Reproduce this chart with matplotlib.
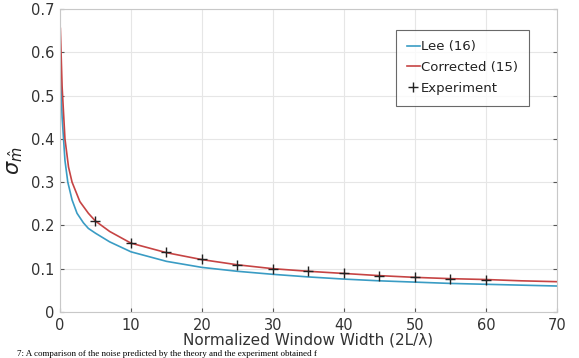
import matplotlib
matplotlib.use("Agg")
import matplotlib.pyplot as plt

# Data
lee_x = [0.05, 0.3, 0.7, 1.1, 1.7, 2.4, 3.3, 4.0, 5, 7, 10, 15, 20, 25, 30, 35, 40, 45, 50, 55, 60, 65, 70]
lee_y = [0.56, 0.45, 0.35, 0.30, 0.259, 0.228, 0.206, 0.193, 0.182, 0.162, 0.139, 0.117, 0.103, 0.094, 0.087, 0.081, 0.076, 0.072, 0.069, 0.066, 0.064, 0.062, 0.060]
cor_x = [0.05, 0.3, 0.7, 1.2, 1.7, 2.8, 4.0, 5, 7, 10, 15, 20, 25, 30, 35, 40, 45, 50, 55, 60, 65, 70]
cor_y = [0.655, 0.52, 0.40, 0.335, 0.30, 0.255, 0.228, 0.21, 0.186, 0.159, 0.137, 0.121, 0.109, 0.100, 0.094, 0.089, 0.084, 0.080, 0.077, 0.075, 0.072, 0.070]
exp_x = [5, 10, 15, 20, 25, 30, 35, 40, 45, 50, 55, 60]
exp_y = [0.210, 0.159, 0.138, 0.122, 0.109, 0.100, 0.095, 0.090, 0.084, 0.081, 0.077, 0.075]
xticks = [0, 10, 20, 30, 40, 50, 60, 70]
yticks = [0, 0.1, 0.2, 0.3, 0.4, 0.5, 0.6, 0.7]
ytick_labels = ["0", "0.1", "0.2", "0.3", "0.4", "0.5", "0.6", "0.7"]

fig = plt.figure(figsize=(5.79, 3.58), dpi=100)
ax = fig.add_axes([0.1036, 0.1285, 0.8584, 0.8465])

ax.plot(lee_x, lee_y, color="#3a9cc4", lw=1.2, label="Lee (16)")
ax.plot(cor_x, cor_y, color="#c64444", lw=1.2, label="Corrected (15)")
ax.plot(exp_x, exp_y, linestyle="none", marker="+", color="#222222", ms=7, mew=1.0, label="Experiment")

ax.set_xlim(0, 70)
ax.set_ylim(0, 0.7)
ax.set_xticks(xticks)
ax.set_yticks(yticks)
ax.set_yticklabels(ytick_labels)
ax.grid(True, color="#e6e6e6", lw=0.8)
ax.set_axisbelow(True)
for s in ax.spines.values():
    s.set_color("#c8c8c8")
    s.set_linewidth(0.8)
ax.tick_params(direction="in", length=3, color="#555555", labelsize=10.5,
               labelcolor="#333333", right=True, top=False, pad=4)

ax.set_xlabel("Normalized Window Width (2L/\u03bb)", fontsize=11, color="#333333", labelpad=0)
ax.set_ylabel(r"$\sigma_{\hat{m}}$", fontsize=15, color="#222222", labelpad=4)

leg = ax.legend(loc="upper right", bbox_to_anchor=(0.951, 0.945), fontsize=9.5,
                frameon=True, fancybox=False, handlelength=1.0, handletextpad=0.1,
                borderpad=0.8, labelspacing=0.6, borderaxespad=0.3)
leg.get_frame().set_edgecolor("#444444")
leg.get_frame().set_linewidth(0.8)
for t in leg.get_texts():
    t.set_color("#222222")

fig.text(0.03, 0.5 / 358, "7: A comparison of the noise predicted by the theory and the experiment obtained f",
         fontsize=6.5, family="Liberation Serif", va="bottom", ha="left", color="black")

fig.savefig("out.png", dpi=100)
